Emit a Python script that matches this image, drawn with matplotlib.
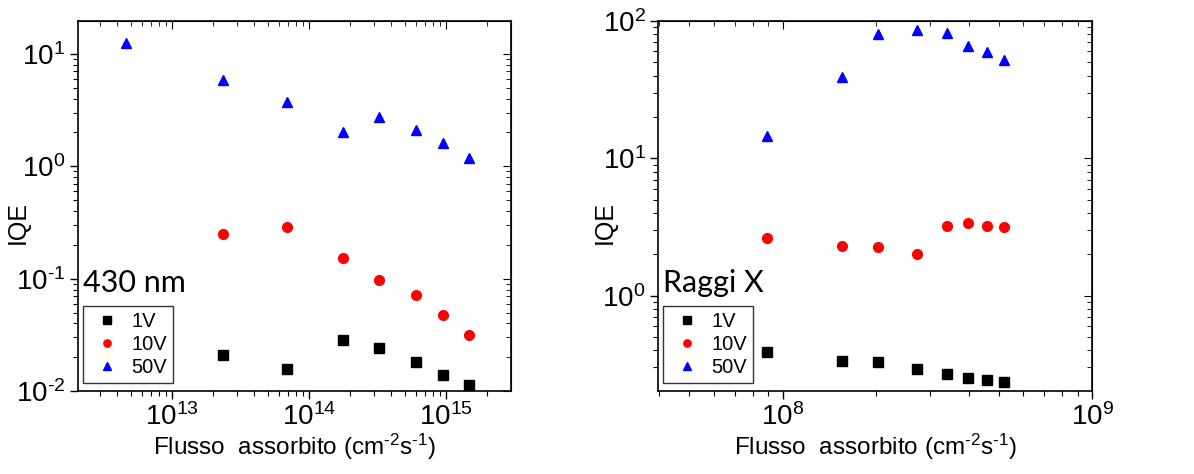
import matplotlib
matplotlib.use('Agg')
import matplotlib.pyplot as plt
from matplotlib.ticker import FuncFormatter
import numpy as np

plt.rcParams['font.family'] = ['Liberation Sans', 'DejaVu Sans']
plt.rcParams['mathtext.fontset'] = 'custom'
plt.rcParams['mathtext.rm'] = 'Liberation Sans'
plt.rcParams['mathtext.it'] = 'Liberation Sans'

# 430 nm panel
flux_vis = [4.6e12, 2.35e13, 6.9e13, 1.76e14, 3.25e14, 6.07e14, 9.5e14, 1.47e15]
iqe_vis_1v = [None, 0.0211, 0.0157, 0.0282, 0.0243, 0.0181, 0.0138, 0.0114]
iqe_vis_10v = [None, 0.248, 0.288, 0.153, 0.098, 0.072, 0.0474, 0.0313]
iqe_vis_50v = [12.4, 5.9, 3.76, 2.03, 2.77, 2.1, 1.62, 1.19]

# X-ray panel
flux_x = [8.94e7, 1.556e8, 2.03e8, 2.71e8, 3.39e8, 3.96e8, 4.57e8, 5.19e8]
iqe_x_1v = [0.387, 0.334, 0.329, 0.291, 0.267, 0.253, 0.242, 0.235]
iqe_x_10v = [2.63, 2.29, 2.25, 2.0, 3.23, 3.40, 3.23, 3.16]
iqe_x_50v = [14.6, 39.3, 80.9, 85.5, 81.8, 65.5, 59.5, 51.8]

labels = ['1V', '10V', '50V']
colors = ['black', 'red', 'blue']
markers = ['s', 'o', '^']


def pow10(v, pos):
    e = int(round(np.log10(v)))
    s = str(e).replace('-', '\\text{-}')
    return '$\\mathdefault{10^{%s}}$' % s


def style(ax, ylab_x):
    ax.set_xscale('log')
    ax.set_yscale('log')
    ax.xaxis.set_major_formatter(FuncFormatter(pow10))
    ax.yaxis.set_major_formatter(FuncFormatter(pow10))
    ax.tick_params(which='both', direction='out', labelsize=20, top=False, right=False, pad=3)
    ax.tick_params(which='major', length=6, width=1)
    ax.tick_params(which='minor', length=3.5, width=0.8)
    for s in ax.spines.values():
        s.set_linewidth(1.2)
    tx = ax.secondary_xaxis('top')
    tx.tick_params(which='both', direction='in', labeltop=False)
    tx.tick_params(which='major', length=6)
    tx.tick_params(which='minor', length=3.5)
    ty = ax.secondary_yaxis('right')
    ty.tick_params(which='both', direction='in', labelright=False)
    ty.tick_params(which='major', length=6)
    ty.tick_params(which='minor', length=3.5)
    ax.set_xlabel('Flusso  assorbito (cm$^{\\text{-}2}$s$^{\\text{-}1}$)', fontsize=17.5, labelpad=0)
    ax.set_ylabel('IQE', fontsize=18)
    ax.yaxis.set_label_coords(ylab_x, 0.454)


def draw(ax, x, series, title):
    for ys, lab, c, m in zip(series, labels, colors, markers):
        px = [a for a, b in zip(x, ys) if b is not None]
        py = [b for b in ys if b is not None]
        ax.plot(px, py, linestyle='none', marker=m, color=c, markersize=7, label=lab)
    leg = ax.legend(loc='lower left', fontsize=14.5, frameon=True, fancybox=False,
                    edgecolor='black', handletextpad=0.3, borderpad=0.3,
                    bbox_to_anchor=(0.0115, 0.0216), borderaxespad=0,
                    labelspacing=0.2, handlelength=1.8, markerscale=0.75)
    leg.get_frame().set_linewidth(1.0)
    ax.text(0.012, 0.268, title, transform=ax.transAxes, fontsize=22,
            family=['Lato', 'DejaVu Sans'], va='baseline', ha='left')


fig = plt.figure(figsize=(11.94, 4.74), dpi=100)
ax1 = fig.add_axes([0.0653, 0.175, 0.3626, 0.781])
ax2 = fig.add_axes([0.5511, 0.175, 0.3635, 0.781])

draw(ax1, flux_vis, [iqe_vis_1v, iqe_vis_10v, iqe_vis_50v], '430 nm')
ax1.set_xlim(2.06e12, 2.98e15)
ax1.set_ylim(1e-2, 19.7)
style(ax1, -0.111)

draw(ax2, flux_x, [iqe_x_1v, iqe_x_10v, iqe_x_50v], 'Raggi X')
ax2.set_xlim(3.96e7, 1e9)
ax2.set_ylim(0.202, 100)
style(ax2, -0.094)

fig.savefig('out.png', dpi=100)
